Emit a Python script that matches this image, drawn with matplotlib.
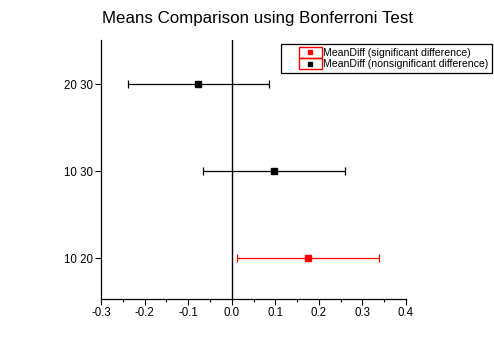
import matplotlib.pyplot as plt
from matplotlib.lines import Line2D
from matplotlib.patches import Rectangle
from matplotlib.legend_handler import HandlerBase
from matplotlib.ticker import MultipleLocator

plt.rcParams['font.family'] = ['Liberation Sans', 'DejaVu Sans']

# Bonferroni pairwise comparisons: mean difference with CI bounds
pairs = ['10 20', '10 30', '20 30']
mean_diff = [0.175, 0.0965, -0.0765]
lower = [0.0125, -0.0665, -0.239]
upper = [0.3375, 0.2595, 0.0860]
significant = [True, False, False]


class FramedMarker(HandlerBase):
    """Legend handle: a square marker inside a red frame, right-aligned in the handle box."""
    frac = 0.6

    def create_artists(self, legend, orig_handle, xdescent, ydescent,
                       width, height, fontsize, trans):
        bw = width * self.frac
        x0 = -xdescent + width - bw
        y0 = -ydescent
        frame = Rectangle((x0, y0), bw, height, facecolor='none',
                          edgecolor='red', lw=1, transform=trans)
        mk = Line2D([x0 + bw / 2], [y0 + height / 2], marker='s', ls='none',
                    color=orig_handle.get_color(), markersize=3,
                    transform=trans)
        return [frame, mk]


fig = plt.figure(figsize=(4.94, 3.47), dpi=100)
ax = fig.add_axes([0.2045, 0.1383, 0.6174, 0.7464])

ypos = list(range(1, len(pairs) + 1))
for y, m, lo, hi, sig in zip(ypos, mean_diff, lower, upper, significant):
    c = 'red' if sig else 'black'
    ax.errorbar(m, y, xerr=[[m - lo], [hi - m]], fmt='s', color=c, ecolor=c,
                markersize=5, elinewidth=0.9, capsize=3.2, capthick=0.9)

ax.axvline(0, color='black', lw=1)

ax.set_xlim(-0.3, 0.4)
ax.set_ylim(0.53, 3.51)
ax.set_yticks(ypos)
ax.set_yticklabels(pairs)
ax.xaxis.set_major_locator(MultipleLocator(0.1))
ax.xaxis.set_minor_locator(MultipleLocator(0.05))
ax.set_xticklabels([f'{v:.1f}' for v in ax.get_xticks()])
ax.tick_params(axis='both', which='major', length=4, width=0.8, labelsize=8.3, pad=1.5)
ax.tick_params(axis='x', which='minor', length=2.5, width=0.8)

for side in ['top', 'right']:
    ax.spines[side].set_visible(False)
for side in ['left', 'bottom']:
    ax.spines[side].set_linewidth(0.9)

fig.suptitle('Means Comparison using Bonferroni Test', fontsize=12.2,
             x=0.522, y=0.968)

h_sig = Line2D([], [], color='red')
h_non = Line2D([], [], color='black')
leg = fig.legend([h_sig, h_non],
                 ['MeanDiff (significant difference)',
                  'MeanDiff (nonsignificant difference)'],
                 handler_map={Line2D: FramedMarker()},
                 loc='upper right', bbox_to_anchor=(0.9953, 0.8746),
                 fontsize=7.6, frameon=True, fancybox=False, framealpha=1,
                 edgecolor='black', borderpad=0.3, labelspacing=0.0,
                 handlelength=3.6, handleheight=1.28, handletextpad=0.15,
                 borderaxespad=0)
leg.get_frame().set_linewidth(0.9)

fig.savefig('out.png', dpi=100)
